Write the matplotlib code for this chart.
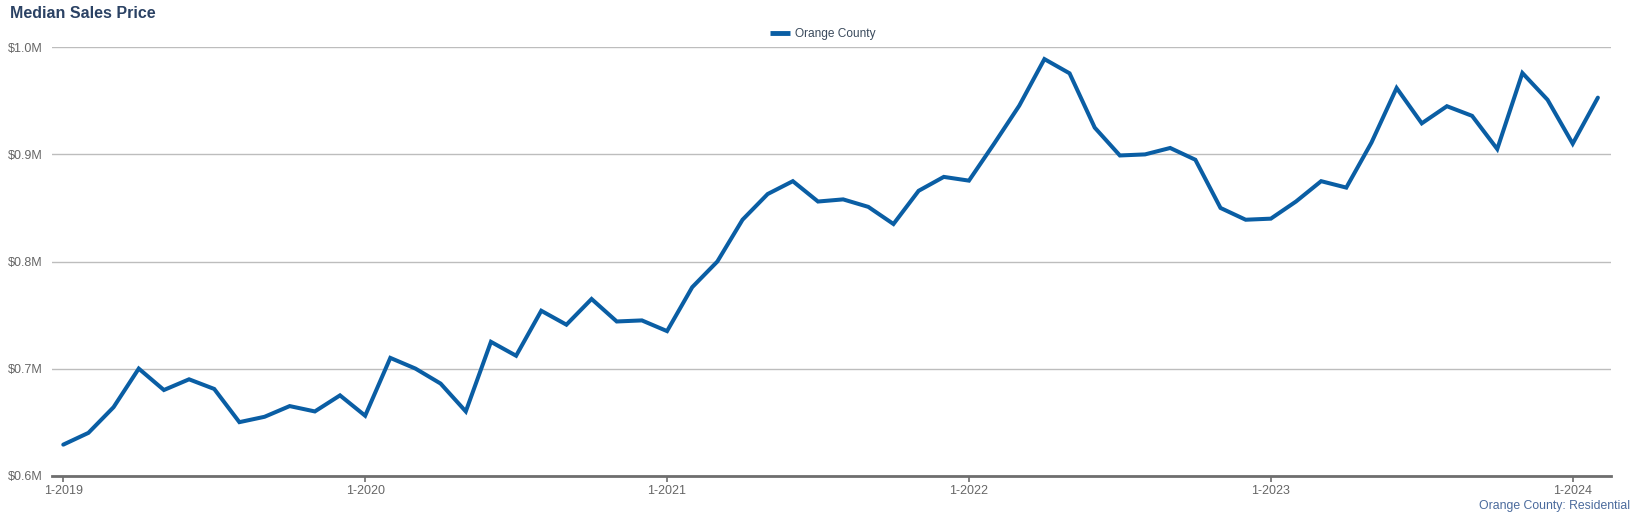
import matplotlib
matplotlib.use("Agg")
import matplotlib.pyplot as plt

plt.rcParams['font.family'] = ['Liberation Sans', 'DejaVu Sans']

# Monthly median sales price (USD), Jan 2019 - Feb 2024
months = [f"{m}-{y}" for y in range(2019, 2025) for m in range(1, 13)][:62]
prices = [
    629000, 640000, 664000, 700000, 680000, 690000, 681000, 650000, 655000, 665000, 660000, 675000,
    656000, 710000, 700000, 686000, 660000, 725000, 712000, 754000, 741000, 765000, 744000, 745000,
    735000, 776000, 800000, 839000, 863000, 875000, 856000, 858000, 851000, 835000, 866000, 879000,
    875500, 910000, 945500, 989000, 975700, 925000, 899000, 900000, 906000, 895000, 850000, 839000,
    840000, 856000, 875000, 869000, 911000, 962000, 929000, 945000, 936000, 905000, 976000, 951000,
    910000, 953000,
]
tick_labels = ["1-2019", "1-2020", "1-2021", "1-2022", "1-2023", "1-2024"]
y_ticks = [600000, 700000, 800000, 900000, 1000000]
y_labels = ["$0.6M", "$0.7M", "$0.8M", "$0.9M", "$1.0M"]
series_name = "Orange County"
title = "Median Sales Price"
footer = "Orange County: Residential"

W, H = 1635, 516
fig = plt.figure(figsize=(W / 100, H / 100), dpi=100)
left, right, top, bottom = 51.7, 1610.7, 47.3, 475.7
ax = fig.add_axes([left / W, 1 - bottom / H, (right - left) / W, (bottom - top) / H])

x = list(range(len(prices)))
line_color = "#0a5ea4"
ax.plot(x, prices, color=line_color, lw=2.9, solid_joinstyle="miter", solid_capstyle="round",
        zorder=3, label=series_name)

ax.set_xlim(-0.46, len(prices) - 0.49)
ax.set_ylim(600000, 1000000)

ax.set_yticks(y_ticks)
ax.set_yticklabels(y_labels)
tick_pos = [months.index(t) for t in tick_labels]
ax.set_xticks(tick_pos)
ax.set_xticklabels(tick_labels)

ax.grid(axis="y", color="#bdbdbd", lw=1.0, zorder=1)
ax.set_axisbelow(True)
for s in ["top", "right", "left"]:
    ax.spines[s].set_visible(False)
ax.spines["bottom"].set_color("#6e6e6e")
ax.spines["bottom"].set_linewidth(2.0)
ax.spines["bottom"].set_zorder(4)

ax.tick_params(axis="y", length=0, pad=6.3, labelsize=9, labelcolor="#666666")
ax.tick_params(axis="x", length=4, width=1.2, color="#6e6e6e", pad=3, labelsize=9,
               labelcolor="#666666")

fig.text(10 / W, 1 - 14 / H, title, fontsize=11.5, fontweight="bold", color="#2b4264",
         ha="left", va="center")

leg = fig.legend(loc="center", bbox_to_anchor=(823 / W, 1 - 33.7 / H), frameon=False,
                 fontsize=8.6, handlelength=1.6, handletextpad=0.45, borderpad=0)
for t in leg.get_texts():
    t.set_color("#3a4a5c")
for h in leg.get_lines():
    h.set_linewidth(3.5)
    h.set_solid_capstyle("butt")

fig.text(1630 / W, 1 - 506 / H, footer, fontsize=8.8, color="#4a6a9c", ha="right", va="center")

fig.savefig("out.png", dpi=100)
